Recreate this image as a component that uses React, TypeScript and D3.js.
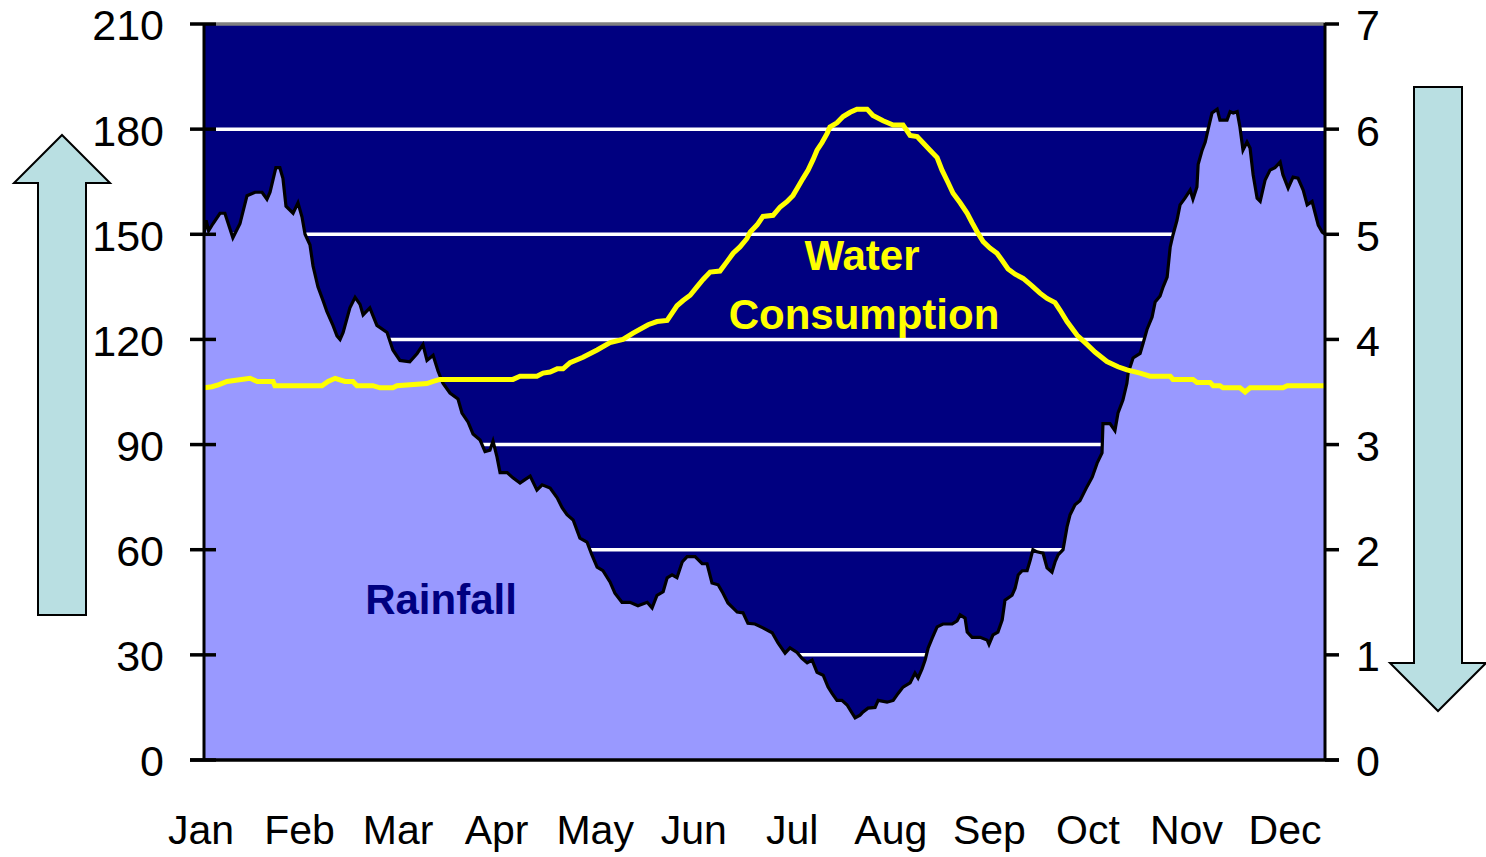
import React from "react";
import * as d3 from "d3";

const months = ["Jan", "Feb", "Mar", "Apr", "May", "Jun", "Jul", "Aug", "Sep", "Oct", "Nov", "Dec"];
const leftTicks = [0, 30, 60, 90, 120, 150, 180, 210];
const rightTicks = [0, 1, 2, 3, 4, 5, 6, 7];

// Rainfall (left axis), day of year -> value
const rainDay = [0, 0.7, 1.5, 2.9, 5.2, 6.8, 9.4, 11.7, 14, 16.6, 18.9, 20.5, 21.5, 23.4, 24.7, 25.7, 26.7, 29, 30.6, 31.9, 32.9, 34.5, 35.5, 37.1, 38.8, 40, 42, 43.3, 44.3, 45.3, 47.5, 49.2, 50.8, 51.8, 54, 56.3, 59.6, 61.5, 63.8, 67, 69.4, 71.3, 72.6, 74.6, 76.2, 77.8, 80.1, 82.7, 84, 86, 87.6, 89.9, 91.5, 93.1, 94.1, 95.4, 96.4, 98.7, 100.6, 102.9, 104.5, 106.2, 108.4, 110.1, 112.7, 115, 116.6, 118.2, 120.2, 122.4, 124.7, 126.3, 128, 129.9, 132.2, 133.8, 136.1, 138.7, 141.3, 144.3, 145.9, 147.5, 149.5, 150.8, 152.4, 154, 155.7, 157.3, 159.9, 162.2, 163.8, 165.4, 167.4, 169, 170.6, 173.6, 175.5, 177.1, 179.4, 182, 185, 186.9, 189.2, 190.8, 193.1, 194.7, 196.4, 198, 199.6, 201.6, 203.2, 204.5, 206.1, 207.7, 209.4, 211, 212, 213.6, 214.6, 216.2, 218.5, 219.5, 222.4, 224.4, 226, 227.6, 229.9, 231.5, 232.5, 233.8, 234.8, 235.8, 237.1, 238.7, 240.6, 243.6, 245.2, 246.2, 247.8, 248.5, 250.1, 252.7, 255, 255.6, 256.9, 258.5, 259.9, 260.8, 263.1, 264.1, 265.1, 266.4, 268, 269, 269.9, 271.2, 273.2, 274.5, 276.1, 277.1, 278.1, 279.7, 281, 282, 283.6, 285.2, 287.5, 289.2, 290.8, 292.4, 292.7, 295, 296.6, 297.6, 299.2, 300.5, 300.9, 302.5, 304.8, 305.8, 307.1, 308.7, 309.7, 311.3, 312.3, 313.6, 314.6, 315.5, 316.8, 317.8, 319.4, 321.1, 322, 323.3, 323.7, 325, 326, 326.9, 328.2, 329.9, 330.8, 333.1, 334.1, 335.1, 336.4, 337.3, 338.3, 339.6, 340.6, 341.6, 342.9, 343.9, 345.5, 347.1, 348.7, 350.4, 351.3, 353, 354.6, 356.2, 357.9, 359.2, 360.8, 361.8, 362.8, 364.1, 365];
const rainValue = [150, 154, 151, 153, 156, 156, 149, 153, 161, 162, 162, 160, 162, 169, 169, 166, 158, 156, 159, 155, 150, 147, 141, 135, 131, 128, 124, 121, 120, 122, 129, 132, 130, 127, 129, 124, 122, 117, 114, 113.6, 116, 118.5, 114, 115.5, 111, 107.5, 104.7, 103, 99, 96.4, 93, 91.3, 88, 88.4, 91, 86.5, 82, 82, 80.5, 79, 80, 81, 77, 78.5, 77.6, 74.8, 72, 70, 68.5, 63.3, 62.2, 58.5, 55, 54, 50.8, 47.6, 45, 45, 44, 45, 43.4, 47, 48, 52, 52.8, 52, 56.5, 58, 58, 56, 56, 50.5, 50, 47.6, 44.8, 42.2, 42, 39, 38.8, 37.7, 36.3, 33.4, 30.5, 32, 30.7, 29, 27.7, 28.5, 25, 24.2, 20.8, 19, 17, 17, 15.7, 13.4, 12, 12.8, 13.7, 14.8, 15, 17, 16.5, 17, 19, 20.8, 22, 24.8, 23.4, 26, 28.5, 32, 34.8, 38, 38.8, 38.8, 39.7, 41.4, 40.5, 36.5, 35, 35, 34.2, 33, 35.7, 36.5, 40, 45.6, 47, 49, 52.8, 54, 54, 57, 60, 59.4, 59, 54.8, 53.6, 56.5, 58.5, 60, 66.5, 70, 72.8, 74, 78, 80.7, 84.7, 87.6, 96, 96, 94, 99, 102.7, 107.5, 110.4, 114.7, 116, 119, 123, 126.4, 130.7, 132.4, 135, 137.8, 146.4, 149.8, 154, 158.4, 160.3, 162.6, 160, 163.5, 170, 174, 176.3, 179.8, 184.6, 185.7, 182.6, 182.6, 185, 184.6, 185, 180.6, 174, 176.3, 174.6, 167, 160.3, 159.4, 165.5, 168.3, 169, 170.6, 167, 163.2, 166.3, 166, 162.6, 158.4, 159.4, 156, 152.6, 150.6, 150];

// Water consumption (right axis), day of year -> value
const waterDay = [0, 2.6, 4.9, 7.5, 15, 17.3, 22.5, 23.1, 38.4, 40.4, 42.7, 45.9, 48.5, 49.8, 55, 57.3, 61.5, 62.8, 72.6, 74.6, 76.8, 100.6, 102.9, 108.4, 110.4, 112.7, 115, 116.9, 119.2, 123.4, 128, 132.2, 136.4, 139.7, 144.6, 147.5, 150.8, 152.4, 154, 156, 158.3, 160.5, 162.5, 164.8, 168, 170.3, 172.3, 174.5, 176.8, 177.8, 180.1, 182, 185.3, 187.6, 189.8, 191.8, 193.4, 195, 196.7, 198.3, 199.6, 201.2, 202.9, 203.8, 206.1, 208.1, 210.4, 212.6, 215.9, 217.8, 221.1, 224.4, 227.6, 229.9, 232.2, 234.1, 236.4, 238.7, 240.3, 242.3, 243.9, 246.2, 248.5, 250.1, 252, 253.7, 255.9, 258.2, 259.9, 261.8, 264.1, 266.7, 269.6, 272.2, 274.5, 277.1, 278.7, 281, 284.3, 286.9, 290.1, 294, 297.6, 300.5, 304.8, 308, 314.6, 315.5, 322, 323.3, 327.6, 328.6, 330.8, 331.8, 337.3, 339, 340.6, 351.3, 352.7, 365];
const waterValue = [3.54, 3.55, 3.57, 3.6, 3.63, 3.6, 3.6, 3.56, 3.56, 3.6, 3.63, 3.6, 3.6, 3.56, 3.56, 3.54, 3.54, 3.56, 3.58, 3.6, 3.62, 3.62, 3.65, 3.65, 3.68, 3.69, 3.72, 3.72, 3.78, 3.83, 3.9, 3.97, 4.0, 4.06, 4.14, 4.17, 4.18, 4.25, 4.32, 4.37, 4.42, 4.5, 4.57, 4.64, 4.65, 4.74, 4.82, 4.88, 4.96, 5.02, 5.09, 5.17, 5.18, 5.26, 5.31, 5.37, 5.45, 5.53, 5.61, 5.71, 5.8, 5.87, 5.96, 6.02, 6.06, 6.12, 6.16, 6.19, 6.19, 6.13, 6.08, 6.04, 6.04, 5.94, 5.93, 5.87, 5.8, 5.73, 5.61, 5.49, 5.39, 5.3, 5.2, 5.11, 5.01, 4.93, 4.87, 4.82, 4.75, 4.67, 4.62, 4.58, 4.51, 4.44, 4.39, 4.35, 4.28, 4.17, 4.04, 3.97, 3.88, 3.79, 3.74, 3.71, 3.68, 3.65, 3.65, 3.62, 3.62, 3.59, 3.59, 3.56, 3.56, 3.54, 3.54, 3.5, 3.54, 3.54, 3.56, 3.56];

const W = 1486;
const H = 857;
const L = 204, R = 1325, T = 24, B = 760;

export default function App() {
  const x = d3.scaleLinear().domain([0, 365]).range([L, R]);
  const yL = d3.scaleLinear().domain([0, 210]).range([B, T]);
  const yR = d3.scaleLinear().domain([0, 7]).range([B, T]);
  const xm = d3.scalePoint<string>().domain(months).range([L - 3, R - 40]);

  const rain = rainDay.map((d, i) => [d, rainValue[i]] as [number, number]);
  const water = waterDay.map((d, i) => [d, waterValue[i]] as [number, number]);

  const area = d3.area<[number, number]>().x((d) => x(d[0])).y0(B).y1((d) => yL(d[1]));
  const rainLine = d3.line<[number, number]>().x((d) => x(d[0])).y((d) => yL(d[1]));
  const waterLine = d3.line<[number, number]>().x((d) => x(d[0])).y((d) => yR(d[1]));

  const font = "'Liberation Sans', Arial, sans-serif";
  const arrowFill = "#B9DFE2";

  return (
    <svg width={W} height={H} style={{ position: "absolute", left: 0, top: 0, background: "#fff" }}>
      <defs>
        <clipPath id="plot">
          <rect x={L} y={T} width={R - L} height={B - T} />
        </clipPath>
      </defs>
      <rect x={L} y={T} width={R - L} height={B - T} fill="#000080" />
      {leftTicks.filter((t) => t > 0 && t < 210).map((t) => (
        <line key={t} x1={L + 12} x2={R} y1={yL(t)} y2={yL(t)} stroke="#fff" strokeWidth={3.5} />
      ))}
      <g clipPath="url(#plot)">
        <path d={area(rain) || ""} fill="#9999FF" />
        <path d={rainLine(rain) || ""} fill="none" stroke="#000" strokeWidth={3.2} strokeLinejoin="miter" />
        <path d={waterLine(water) || ""} fill="none" stroke="#FFFF00" strokeWidth={5} />
      </g>
      <line x1={L + 12} x2={R} y1={T} y2={T} stroke="#808080" strokeWidth={3.5} />
      {/* axes */}
      <line x1={L} x2={L} y1={T - 1} y2={B + 1} stroke="#000" strokeWidth={3} />
      <line x1={R} x2={R} y1={T - 1} y2={B + 1} stroke="#000" strokeWidth={3} />
      <line x1={L - 14} x2={R + 14} y1={B} y2={B} stroke="#000" strokeWidth={3.5} />
      {leftTicks.map((t) => (
        <g key={t}>
          <line x1={L - 14} x2={L + 12} y1={yL(t)} y2={yL(t)} stroke="#000" strokeWidth={3.5} />
          <text x={164} y={yL(t) + 5} textAnchor="end" dominantBaseline="middle" fontFamily={font} fontSize={43} fill="#000">
            {t}
          </text>
        </g>
      ))}
      {rightTicks.map((t) => (
        <g key={t}>
          <line x1={R} x2={R + 14} y1={yR(t)} y2={yR(t)} stroke="#000" strokeWidth={3.5} />
          <text x={1356} y={yR(t) + 5} textAnchor="start" dominantBaseline="middle" fontFamily={font} fontSize={43} fill="#000">
            {t}
          </text>
        </g>
      ))}
      {months.map((m) => (
        <text key={m} x={xm(m)} y={833} textAnchor="middle" dominantBaseline="middle" fontFamily={font} fontSize={41} fill="#000">
          {m}
        </text>
      ))}
      {/* labels */}
      <text x={862} y={259} textAnchor="middle" dominantBaseline="middle" fontFamily={font} fontWeight="bold" fontSize={42} fill="#FFFF00">
        Water
      </text>
      <text x={864} y={318} textAnchor="middle" dominantBaseline="middle" fontFamily={font} fontWeight="bold" fontSize={42} fill="#FFFF00">
        Consumption
      </text>
      <text x={441} y={603} textAnchor="middle" dominantBaseline="middle" fontFamily={font} fontWeight="bold" fontSize={42} fill="#000080">
        Rainfall
      </text>
      {/* arrows */}
      <path d="M62,135 L110,183 L86,183 L86,615 L38,615 L38,183 L14,183 Z" fill={arrowFill} stroke="#000" strokeWidth={2} />
      <path d="M1414,87 L1462,87 L1462,663 L1486,663 L1438,711 L1390,663 L1414,663 Z" fill={arrowFill} stroke="#000" strokeWidth={2} />
    </svg>
  );
}
